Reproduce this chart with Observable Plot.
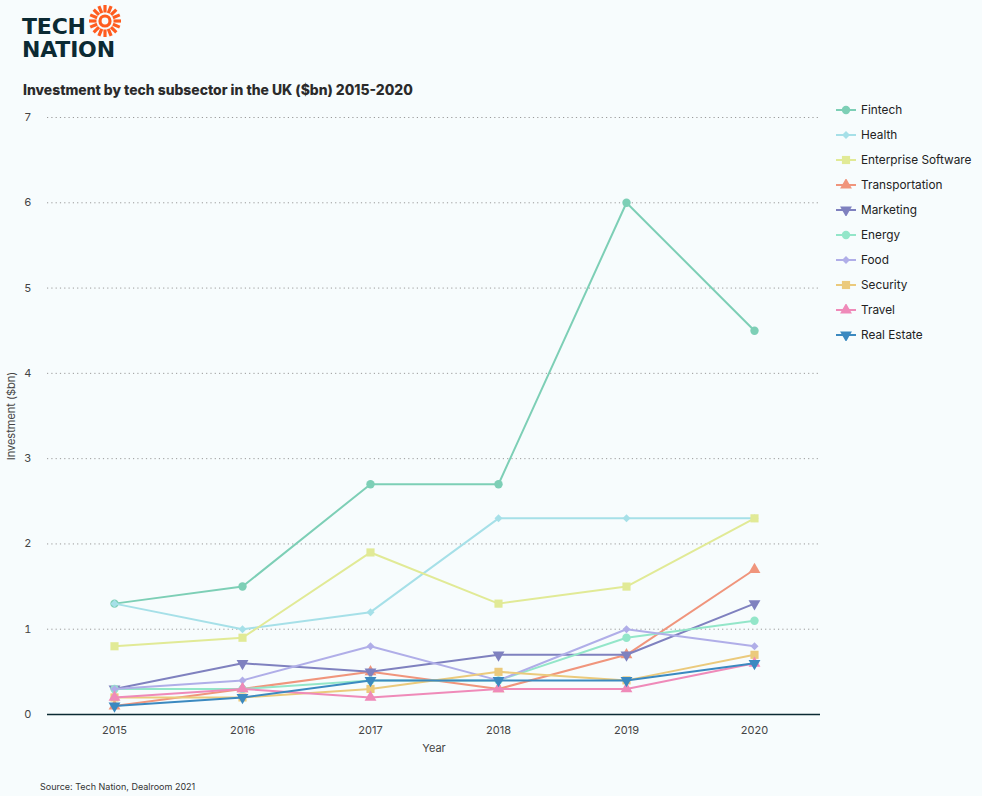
<!DOCTYPE html>
<html><head><meta charset="utf-8">
<script src="https://cdn.jsdelivr.net/npm/d3@7"></script>
<script src="https://cdn.jsdelivr.net/npm/@observablehq/plot@0.6"></script>
<style>
body{margin:0;background:#f7fcfd;font-family:Inter,"Noto Sans",sans-serif;}
#wrap{position:relative;width:982px;height:796px;overflow:hidden;background:#f7fcfd;}
.logo{position:absolute;left:22px;color:#0b2a33;font-family:"DejaVu Sans",sans-serif;font-weight:700;font-size:22px;line-height:22px;letter-spacing:-0.2px;}
#sun{position:absolute;left:88px;top:3px;}
#title{position:absolute;left:23px;top:82px;font-weight:800;font-size:13.9px;color:#2b2b2b;}
#chart{position:absolute;left:0;top:100px;}
#legend{position:absolute;left:836px;top:97px;font-size:11.8px;color:#222;}
.li{display:flex;align-items:center;height:25px;}
.li svg{margin-right:5px;}
#source{position:absolute;left:40px;top:781px;font-size:9px;color:#333;}
</style></head>
<body>
<div id="wrap">
  <div class="logo" style="top:16px">TECH</div>
  <div class="logo" style="top:39px">NATION</div>
  <svg id="sun" width="36" height="36"></svg>
  <div id="title">Investment by tech subsector in the UK ($bn) 2015-2020</div>
  <div id="chart"></div>
  <div id="legend"></div>
  <div id="source">Source: Tech Nation, Dealroom 2021</div>
</div>
<script>
const years = [2015, 2016, 2017, 2018, 2019, 2020];
const seriesNames = ["Fintech","Health","Enterprise Software","Transportation","Marketing","Energy","Food","Security","Travel","Real Estate"];
const fintech = [1.3, 1.5, 2.7, 2.7, 6.0, 4.5];
const health = [1.3, 1.0, 1.2, 2.3, 2.3, 2.3];
const enterpriseSoftware = [0.8, 0.9, 1.9, 1.3, 1.5, 2.3];
const transportation = [0.1, 0.3, 0.5, 0.3, 0.7, 1.7];
const marketing = [0.3, 0.6, 0.5, 0.7, 0.7, 1.3];
const energy = [0.3, 0.3, 0.4, 0.4, 0.9, 1.1];
const food = [0.3, 0.4, 0.8, 0.4, 1.0, 0.8];
const security = [0.2, 0.2, 0.3, 0.5, 0.4, 0.7];
const travel = [0.2, 0.3, 0.2, 0.3, 0.3, 0.6];
const realEstate = [0.1, 0.2, 0.4, 0.4, 0.4, 0.6];
const yTicks = [0, 1, 2, 3, 4, 5, 6, 7];

const seriesValues = [fintech, health, enterpriseSoftware, transportation, marketing, energy, food, security, travel, realEstate];
const palette = ["#7dcfb6","#a6e0e8","#e1ea96","#f0957c","#7f81bf","#93e6c9","#b0aee8","#ebca7c","#ef8ab9","#3b89c0"];
const symbols = ["circle","diamond2","square","triangle","triangle","circle","diamond2","square","triangle","triangle"];
const rotations = [0,0,0,0,180,0,0,0,0,180];
const radii = [4.2,3.6,4.6,4.4,4.4,4.2,3.6,4.6,4.4,4.4];

const table = seriesNames.flatMap((s, i) => years.map((y, j) => ({series: s, year: y, value: seriesValues[i][j]})));

const marks = [
  Plot.gridY(yTicks.filter(d => d > 0), {stroke: "#9a9a9a", strokeOpacity: 1, strokeDasharray: "1.2,3.1", strokeWidth: 1}),
  Plot.ruleY([0], {stroke: "#0b2a33", strokeWidth: 1.5}),
  Plot.axisY({ticks: yTicks, tickSize: 0, tickPadding: 16, tickFormat: d3.format("d"), label: "Investment ($bn)", labelAnchor: "center", labelArrow: "none", labelOffset: 40}),
  Plot.axisX({tickSize: 0, tickPadding: 12, tickFormat: d => String(d), label: "Year", labelAnchor: "center", labelArrow: "none", labelOffset: 37})
];
seriesNames.forEach((s, i) => {
  const rows = table.filter(d => d.series === s);
  marks.push(Plot.line(rows, {x: "year", y: "value", stroke: palette[i], strokeWidth: 2}));
  marks.push(Plot.dot(rows, {x: "year", y: "value", fill: palette[i], symbol: symbols[i], r: radii[i], rotate: rotations[i]}));
});

const chart = Plot.plot({
  width: 830, height: 660,
  marginLeft: 47, marginRight: 10, marginTop: 17, marginBottom: 46,
  style: {background: "transparent", fontFamily: "Inter, sans-serif", fontSize: "11px", color: "#444"},
  x: {type: "point", domain: years, padding: 0.5},
  y: {domain: [0, 7]},
  marks
});
document.getElementById("chart").append(chart);

// legend
const legend = d3.select("#legend");
const symMap = {circle: d3.symbolCircle, diamond2: d3.symbolDiamond2, square: d3.symbolSquare, triangle: d3.symbolTriangle};
seriesNames.forEach((s, i) => {
  const row = legend.append("div").attr("class", "li");
  const svg = row.append("svg").attr("width", 20).attr("height", 12);
  svg.append("line").attr("x1", 0).attr("x2", 20).attr("y1", 6).attr("y2", 6).attr("stroke", palette[i]).attr("stroke-width", 2);
  svg.append("path").attr("d", d3.symbol(symMap[symbols[i]], Math.PI * radii[i] * radii[i])())
    .attr("transform", `translate(10,6) rotate(${rotations[i]})`).attr("fill", palette[i]);
  row.append("span").text(s);
});

// logo sun
const sun = d3.select("#sun").append("g").attr("transform", "translate(17,18)");
sun.append("circle").attr("r", 5).attr("fill", "none").attr("stroke", "#ff5c1f").attr("stroke-width", 3.2);
d3.range(16).forEach(k => {
  const a = k * Math.PI * 2 / 16;
  sun.append("line").attr("x1", Math.cos(a) * 8.5).attr("y1", Math.sin(a) * 8.5)
    .attr("x2", Math.cos(a) * 16).attr("y2", Math.sin(a) * 16)
    .attr("stroke", "#ff5c1f").attr("stroke-width", 3.2).attr("stroke-linecap", "butt");
});
</script>
</body></html>
